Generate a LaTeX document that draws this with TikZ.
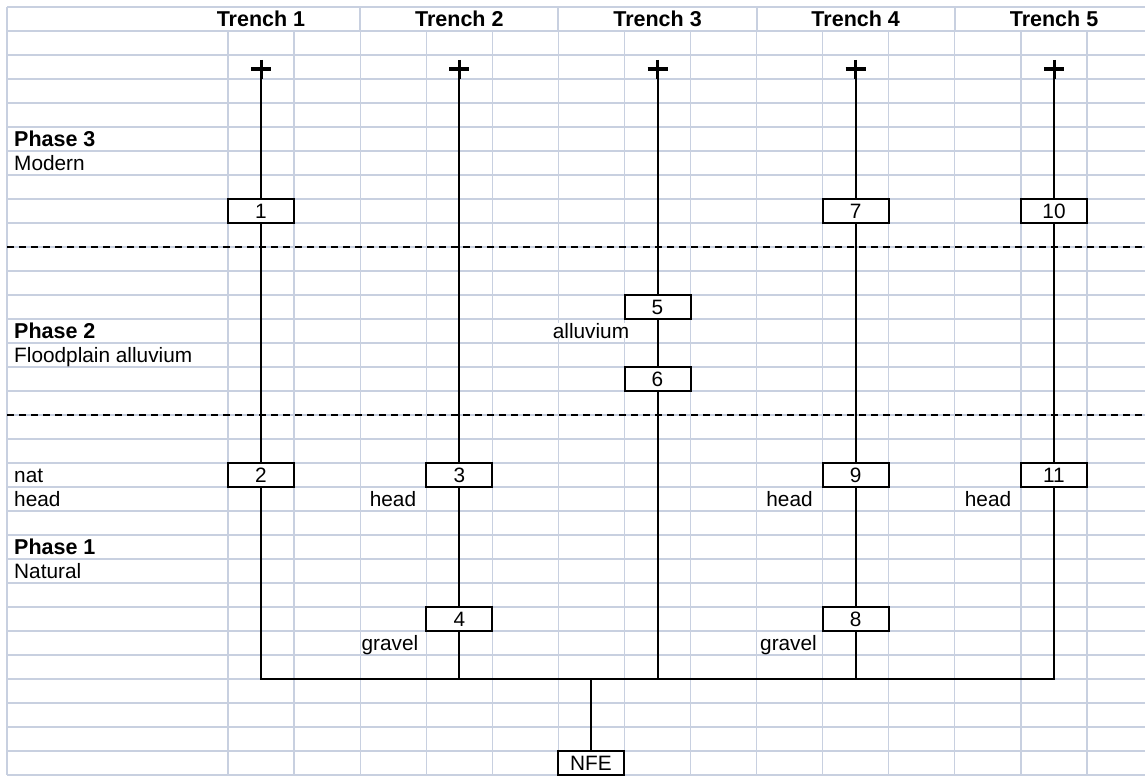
\documentclass[tikz,border=0pt]{standalone}
\usepackage{fontspec}
\setmainfont{Liberation Sans}
\usetikzlibrary{calc}
\definecolor{gridcol}{RGB}{200,208,224}

\begin{document}
\begin{tikzpicture}[x=1pt,y=-1pt,
    cell/.style={draw,line width=2pt,fill=white,minimum width=66pt,minimum height=24pt,inner sep=0pt,font=\fontsize{20.8}{24}\selectfont},
    txt/.style={inner xsep=1pt,inner ysep=0pt,font=\fontsize{20.8}{24}\selectfont},
    lbl/.style={txt,anchor=base west},
    sub/.style={txt,anchor=base},
    phase/.style={lbl,font=\fontsize{21.5}{24}\selectfont\bfseries},
    trenchhead/.style={sub,font=\fontsize{21.5}{24}\selectfont\bfseries},
    trench/.style={line width=2pt},
    plus/.style={line width=3pt},
    phaseline/.style={line width=1.5pt,dash pattern=on 7pt off 5pt}]

        \useasboundingbox (0,0) rectangle (1145,776);

        % sheet grid
        \foreach \k in {0,...,32}
            \draw[gridcol,line width=1.2pt] (7,7+24*\k) -- (1145,7+24*\k);
        \draw[gridcol,line width=1.2pt] (7,7) -- (7,775);
        \foreach \k in {0,...,13}
            \draw[gridcol,line width=1.2pt] (228+66.08*\k,31) -- (228+66.08*\k,775);
        \foreach \x in {360,558,757,955}
            \draw[gridcol,line width=1.2pt] (\x,7) -- (\x,31);

        % phase boundaries
        \draw[phaseline] (7,247) -- (1145,247);
        \draw[phaseline] (7,415) -- (1145,415);

        % trench tops
        \foreach \i/\x in {1/261,2/459.3,3/657.5,4/855.7,5/1054} {
            \coordinate (p\i) at (\x,69);
            \node[trenchhead] (h\i) at (\x,26.5) {Trench \i};
            \draw[plus] (\x-10,69) -- (\x+10,69) (\x,60) -- (\x,79);
        }

        % contexts
        \node[cell] (b1) at (261,211) {1};
        \node[cell] (b2) at (261,475) {2};
        \node[cell] (b3) at (459.3,475) {3};
        \node[cell] (b4) at (459.3,619) {4};
        \node[cell] (b5) at (657.5,307) {5};
        \node[cell] (b6) at (657.5,379) {6};
        \node[cell] (b7) at (855.7,211) {7};
        \node[cell] (b8) at (855.7,619) {8};
        \node[cell] (b9) at (855.7,475) {9};
        \node[cell] (b10) at (1054,211) {10};
        \node[cell] (b11) at (1054,475) {11};
        \node[cell] (nfe) at (591,763) {NFE};

        \coordinate (base) at (591,679);

        \draw[trench] (p1) -- (b1) -- (b2) |- (base);
        \draw[trench] (p2) -- (b3) -- (b4) |- (base);
        \draw[trench] (p3) -- (b5) -- (b6) |- (base);
        \draw[trench] (p4) -- (b7) -- (b9) -- (b8) |- (base);
        \draw[trench] (p5) -- (b10) -- (b11) |- (base);
        \draw[trench] (base) -- (nfe);

        % phase labels
        \node[phase] (ph3) at (13,146.5) {Phase 3};
        \node[lbl] (mod) at (13,170.5) {Modern};
        \node[phase] (ph2) at (13,338.5) {Phase 2};
        \node[lbl] (flood) at (13,362.5) {Floodplain alluvium};
        \node[lbl] (nat) at (13,482.5) {nat};
        \node[lbl] (head0) at (13,506.5) {head};
        \node[phase] (ph1) at (13,554.5) {Phase 1};
        \node[lbl] (natural) at (13,578.5) {Natural};

        % deposit labels
        \node[sub,fill=white] (allu) at (591,338) {alluvium};
        \node[sub] (head2) at (393,506.5) {head};
        \node[sub] (head4) at (789.5,506.5) {head};
        \node[sub] (head5) at (988,506.5) {head};
        \node[sub] (grav2) at (390,650.5) {gravel};
        \node[sub] (grav4) at (788.5,650.5) {gravel};

    \end{tikzpicture}
\end{document}
